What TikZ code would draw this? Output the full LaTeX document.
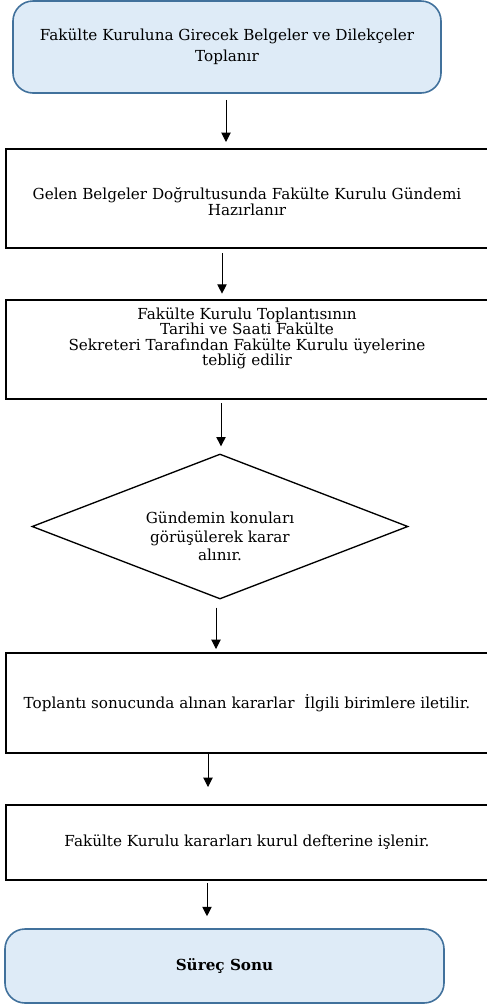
\documentclass[tikz,border=0pt]{standalone}
\usepackage{fontspec}
\setmainfont{DejaVu Serif}
\usetikzlibrary{arrows.meta,shapes.geometric}

\definecolor{termfill}{HTML}{DEEBF7}
\definecolor{termdraw}{HTML}{41719C}

\tikzset{every picture/.style={line width=0.75pt}}
\tikzset{
  termbox/.style={draw=termdraw, fill=termfill, line width=1.2pt, rounded corners=15pt, align=center, inner sep=0pt},
  stepbox/.style={draw, line width=1.5pt, align=center, inner sep=0pt, minimum width=361.5pt},
  decbox/.style={draw, shape=diamond, line width=1pt, aspect=2.6, inner sep=0pt},
  txt/.style={align=center, inner sep=0pt},
  flow/.style={-{Triangle[length=7pt,width=7pt]}, line width=0.75pt},
}

\begin{document}
\begin{tikzpicture}[x=0.75pt,y=0.75pt,yscale=-1,font=\fontsize{11.4}{16}\selectfont]
  \useasboundingbox (0,0) rectangle (486,1004);

  %Shape: Rounded Rect [id:start]
  \node (start) at (227,47) [termbox, minimum width=321pt, minimum height=69pt] {Fakülte Kuruluna Girecek Belgeler ve Dilekçeler\\Toplanır};
  %Shape: Rectangle [id:gundem]
  \node (gundem) at (247,198.5) [stepbox, minimum height=74.25pt] {};
  % Text Node
  \node (gundemtxt) at ([yshift=2.25pt]gundem.center) [txt, font=\fontsize{11.4}{12.5}\selectfont] {Gelen Belgeler Doğrultusunda Fakülte Kurulu Gündemi\\Hazırlanır};
  %Shape: Rectangle [id:teblig]
  \node (teblig) at (247,349.5) [stepbox, minimum height=74.25pt] {};
  % Text Node
  \node (tebligtxt) at ([yshift=-8.25pt]teblig.center) [txt, font=\fontsize{11.4}{11.6}\selectfont] {Fakülte Kurulu Toplantısının\\Tarihi ve Saati Fakülte\\Sekreteri Tarafından Fakülte Kurulu üyelerine\\tebliğ edilir};
  %Shape: Diamond [id:karar]
  \node (karar) at (220,526.5) [decbox, minimum width=282pt, minimum height=108.75pt] {};
  % Text Node
  \node (karartxt) at ([yshift=7.5pt]karar.center) [txt, font=\fontsize{11.4}{14}\selectfont] {Gündemin konuları\\görüşülerek karar\\alınır.};
  %Shape: Rectangle [id:ilet]
  \node (ilet) at (247,703) [stepbox, minimum height=75pt] {Toplantı sonucunda alınan kararlar \ İlgili birimlere iletilir.};
  %Shape: Rectangle [id:defter]
  \node (defter) at (247,842.5) [stepbox, minimum height=56.25pt] {Fakülte Kurulu kararları kurul defterine işlenir.};
  %Shape: Rounded Rect [id:son]
  \node (son) at (224.5,966) [termbox, minimum width=329.25pt, minimum height=55.5pt] {\textbf{Süreç Sonu}};

  %Straight Lines [id:arrows]
  \draw[flow, shorten <=4.5pt, shorten >=4.5pt] ([xshift=-0.75pt]start.south) -- ([xshift=-15.75pt]gundem.north);
  \draw[flow, shorten <=3pt, shorten >=4pt] ([xshift=-18.75pt]gundem.south) -- ([xshift=-18.75pt]teblig.north);
  \draw[flow, shorten <=2.25pt, shorten >=5.25pt] ([xshift=-19.5pt]teblig.south) -- ([xshift=0.75pt]karar.north);
  \draw[flow, shorten <=6pt, shorten >=2.25pt] ([xshift=-3pt]karar.south) -- ([xshift=-23.25pt]ilet.north);
  \draw[flow, shorten >=12.75pt] ([xshift=-29.25pt]ilet.south) -- ([xshift=-29.25pt]defter.north);
  \draw[flow, shorten <=1.5pt, shorten >=9pt] ([xshift=-30pt]defter.south) -- ([xshift=-13.125pt]son.north);

\end{tikzpicture}
\end{document}
